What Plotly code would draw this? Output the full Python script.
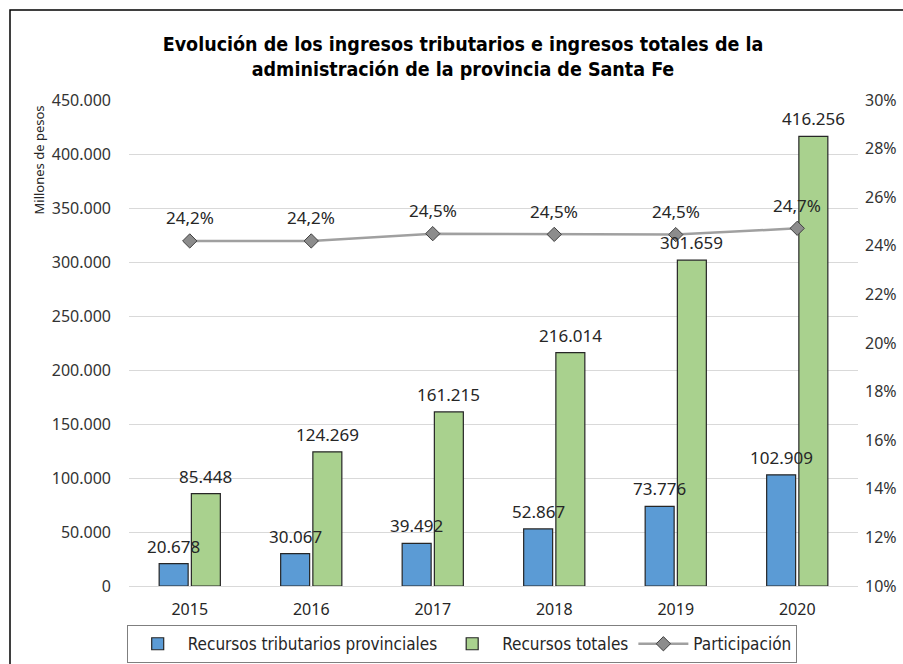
import plotly.graph_objects as go

years = ["2015", "2016", "2017", "2018", "2019", "2020"]
tributarios = [20678, 30067, 39492, 52867, 73776, 102909]
totales = [85448, 124269, 161215, 216014, 301659, 416256]
participacion = [0.2420, 0.2420, 0.2450, 0.2447, 0.2446, 0.2472]

W, H = 903, 664
L, R, T, B = 129, 45, 100, 78
pw, ph = W - L - R, H - T - B

def px(x):
    return (x - L) / pw

def py(y):
    return (H - B - y) / ph

def miles(v):
    return f"{v:,}".replace(",", ".")

def pct(v):
    return f"{v * 100:.1f}%".replace(".", ",")

NARROW = "DejaVu Sans Condensed, Liberation Sans Narrow, sans-serif"
NUM = "Noto Sans, Open Sans, sans-serif"
TXT = "#262626"

fig = go.Figure()
fig.add_trace(go.Bar(
    x=years, y=tributarios, name="Recursos tributarios provinciales",
    marker=dict(color="#5B9BD5", line=dict(color="#262626", width=1.2)),
))
fig.add_trace(go.Bar(
    x=years, y=totales, name="Recursos totales",
    marker=dict(color="#A9D18E", line=dict(color="#262626", width=1.2)),
))
fig.add_trace(go.Scatter(
    x=years, y=participacion, name="Participación", yaxis="y2",
    mode="lines+markers",
    line=dict(color="#A0A0A0", width=2.5),
    marker=dict(symbol="diamond", size=11, color="#8C8C8C",
                line=dict(color="#404040", width=1)),
    cliponaxis=False,
))

annotations = []
for i, v in enumerate(tributarios):
    annotations.append(dict(x=i, y=v, xref="x", yref="y", text=miles(v),
                            showarrow=False, xshift=-16, yshift=4,
                            yanchor="bottom", xanchor="center",
                            font=dict(family=NUM, size=17, color=TXT)))
for i, v in enumerate(totales):
    annotations.append(dict(x=i, y=v, xref="x", yref="y", text=miles(v),
                            showarrow=False, xshift=16, yshift=4,
                            yanchor="bottom", xanchor="center",
                            font=dict(family=NUM, size=17, color=TXT)))
for i, v in enumerate(participacion):
    annotations.append(dict(x=i, y=v, xref="x", yref="y2", text=pct(v),
                            showarrow=False, yshift=23,
                            yanchor="middle", xanchor="center",
                            font=dict(family=NUM, size=17, color=TXT)))
annotations.append(dict(
    text="Millones de pesos", textangle=-90, showarrow=False,
    xref="paper", yref="paper", x=px(38), y=py(104),
    xanchor="center", yanchor="top",
    font=dict(family=NUM, size=13, color=TXT),
))

fig.update_layout(
    width=W, height=H,
    margin=dict(l=L, r=R, t=T, b=B, autoexpand=False),
    paper_bgcolor="white", plot_bgcolor="white",
    separators=",.",
    barmode="group", bargap=0.47, bargroupgap=0.1,
    title=dict(
        text="Evolución de los ingresos tributarios e ingresos totales de la<br>administración de la provincia de Santa Fe",
        font=dict(family=NARROW, size=19.5, color="#000000", weight="bold"),
        x=px(463), xref="paper", xanchor="center",
        y=1 - 51 / H, yref="container", yanchor="middle",
    ),
    xaxis=dict(
        type="category", range=[-0.5, len(years) - 0.5],
        showgrid=False, showline=True, linecolor="#D9D9D9", linewidth=1,
        ticks="", tickfont=dict(family=NUM, size=16, color=TXT),
        ticklabelstandoff=9,
    ),
    yaxis=dict(
        range=[0, 450000], dtick=50000, tickformat=",.0f",
        showgrid=True, gridcolor="#D9D9D9", gridwidth=1,
        zeroline=False, showline=False, ticks="",
        tickfont=dict(family=NUM, size=16, color="#333333"),
        ticklabelstandoff=17,
    ),
    yaxis2=dict(
        range=[0.10, 0.30], dtick=0.02, tickformat=".0%",
        overlaying="y", side="right", showgrid=False, zeroline=False,
        showline=False, ticks="",
        tickfont=dict(family=NUM, size=16, color="#333333"),
        ticklabelstandoff=6,
    ),
    legend=dict(
        orientation="h", x=px(462), xanchor="center",
        y=py(644), yanchor="middle",
        bordercolor="#7F7F7F", borderwidth=1.2,
        font=dict(family=NARROW, size=17, color=TXT),
        traceorder="normal", itemwidth=50,
    ),
    showlegend=True,
    annotations=annotations,
    shapes=[dict(
        type="rect", xref="paper", yref="paper",
        x0=px(10), x1=px(960), y0=py(720), y1=py(10),
        line=dict(color="#000000", width=1.5), fillcolor="rgba(0,0,0,0)",
    )],
)

fig.write_html("out.html", config={"displayModeBar": False},
               post_script="document.body.style.margin='0';document.body.style.overflow='hidden';")
